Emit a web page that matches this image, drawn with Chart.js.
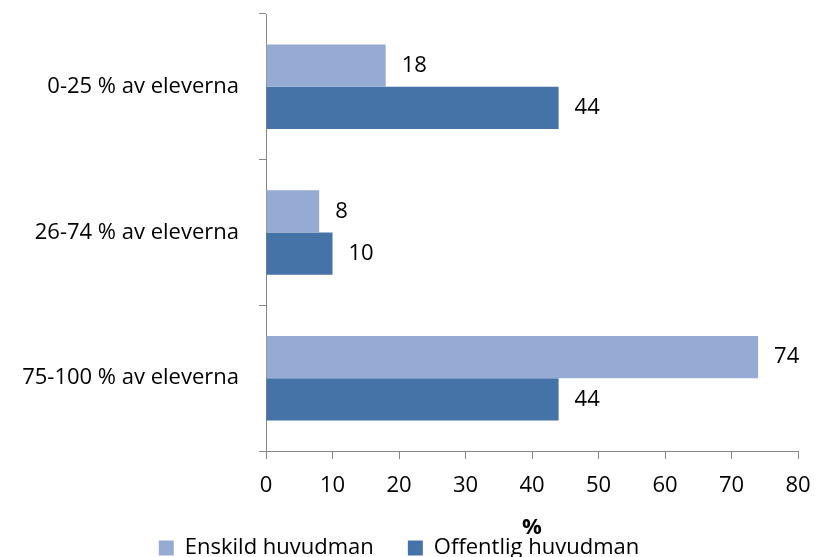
<!DOCTYPE html>
<html>
<head>
<meta charset="utf-8">
<script src="https://cdn.jsdelivr.net/npm/chart.js@4"></script>
<style>
  body { margin: 0; background: #fff; }
  #wrap { width: 827px; height: 557px; }
</style>
</head>
<body>
<div id="wrap"><canvas id="chart"></canvas></div>
<script>
const categories = ['0-25 % av eleverna', '26-74 % av eleverna', '75-100 % av eleverna'];
const enskild = [18, 8, 74];
const offentlig = [44, 10, 44];
const xTicks = [0, 10, 20, 30, 40, 50, 60, 70, 80];

const fontFamily = "'Open Sans', 'Noto Sans', sans-serif";
const fontSize = 22;

// value labels right of each bar
const valueLabels = {
  id: 'valueLabels',
  afterDatasetsDraw(chart) {
    const ctx = chart.ctx;
    ctx.save();
    ctx.fillStyle = '#000';
    ctx.font = fontSize + 'px ' + fontFamily;
    ctx.textAlign = 'left';
    ctx.textBaseline = 'middle';
    chart.data.datasets.forEach((ds, i) => {
      chart.getDatasetMeta(i).data.forEach((bar, j) => {
        ctx.fillText(ds.data[j], bar.x + 16, bar.y);
      });
    });
    ctx.restore();
  }
};

const data = {
  labels: categories,
  datasets: [
    {
      label: 'Enskild huvudman',
      backgroundColor: '#95abd4',
      data: enskild,
    },
    {
      label: 'Offentlig huvudman',
      backgroundColor: '#4572a7',
      data: offentlig,
    }
  ]
};

const config = {
  type: 'bar',
  data: data,
  options: {
    indexAxis: 'y',
    responsive: true,
    maintainAspectRatio: false,
    animation: false,
    barPercentage: 1,
    categoryPercentage: 0.58,
    layout: { padding: { top: 14, right: 29, left: 0, bottom: -12 } },
    scales: {
      x: {
        min: 0,
        max: 80,
        afterBuildTicks: axis => { axis.ticks = xTicks.map(v => ({ value: v })); },
        afterFit: axis => {
          axis.height = 52;
          axis.paddingLeft = 0;
          axis.paddingRight = 0;
        },
        border: { color: '#868686', width: 1 },
        grid: { drawOnChartArea: false, tickLength: 8, color: '#868686' },
        ticks: { color: '#000', font: { size: fontSize, family: fontFamily }, padding: 14 },
        title: {
          display: true,
          text: '%',
          color: '#000',
          font: { size: fontSize, weight: 'bold', family: fontFamily },
          padding: { top: 0, bottom: -38 }
        }
      },
      y: {
        afterFit: axis => {
          axis.width = 266;
          axis.paddingTop = 0;
          axis.paddingBottom = 0;
        },
        border: { color: '#868686', width: 1 },
        grid: { offset: true, drawOnChartArea: false, tickLength: 7, color: '#868686' },
        ticks: { color: '#000', font: { size: fontSize, family: fontFamily }, padding: 20 }
      }
    },
    plugins: {
      legend: {
        position: 'bottom',
        labels: {
          color: '#000',
          font: { size: fontSize, family: fontFamily },
          boxWidth: 15,
          boxHeight: 15,
          padding: 34
        }
      },
      tooltip: { enabled: false }
    }
  },
  plugins: [valueLabels]
};

const chart = new Chart(document.getElementById('chart'), config);
</script>
</body>
</html>
